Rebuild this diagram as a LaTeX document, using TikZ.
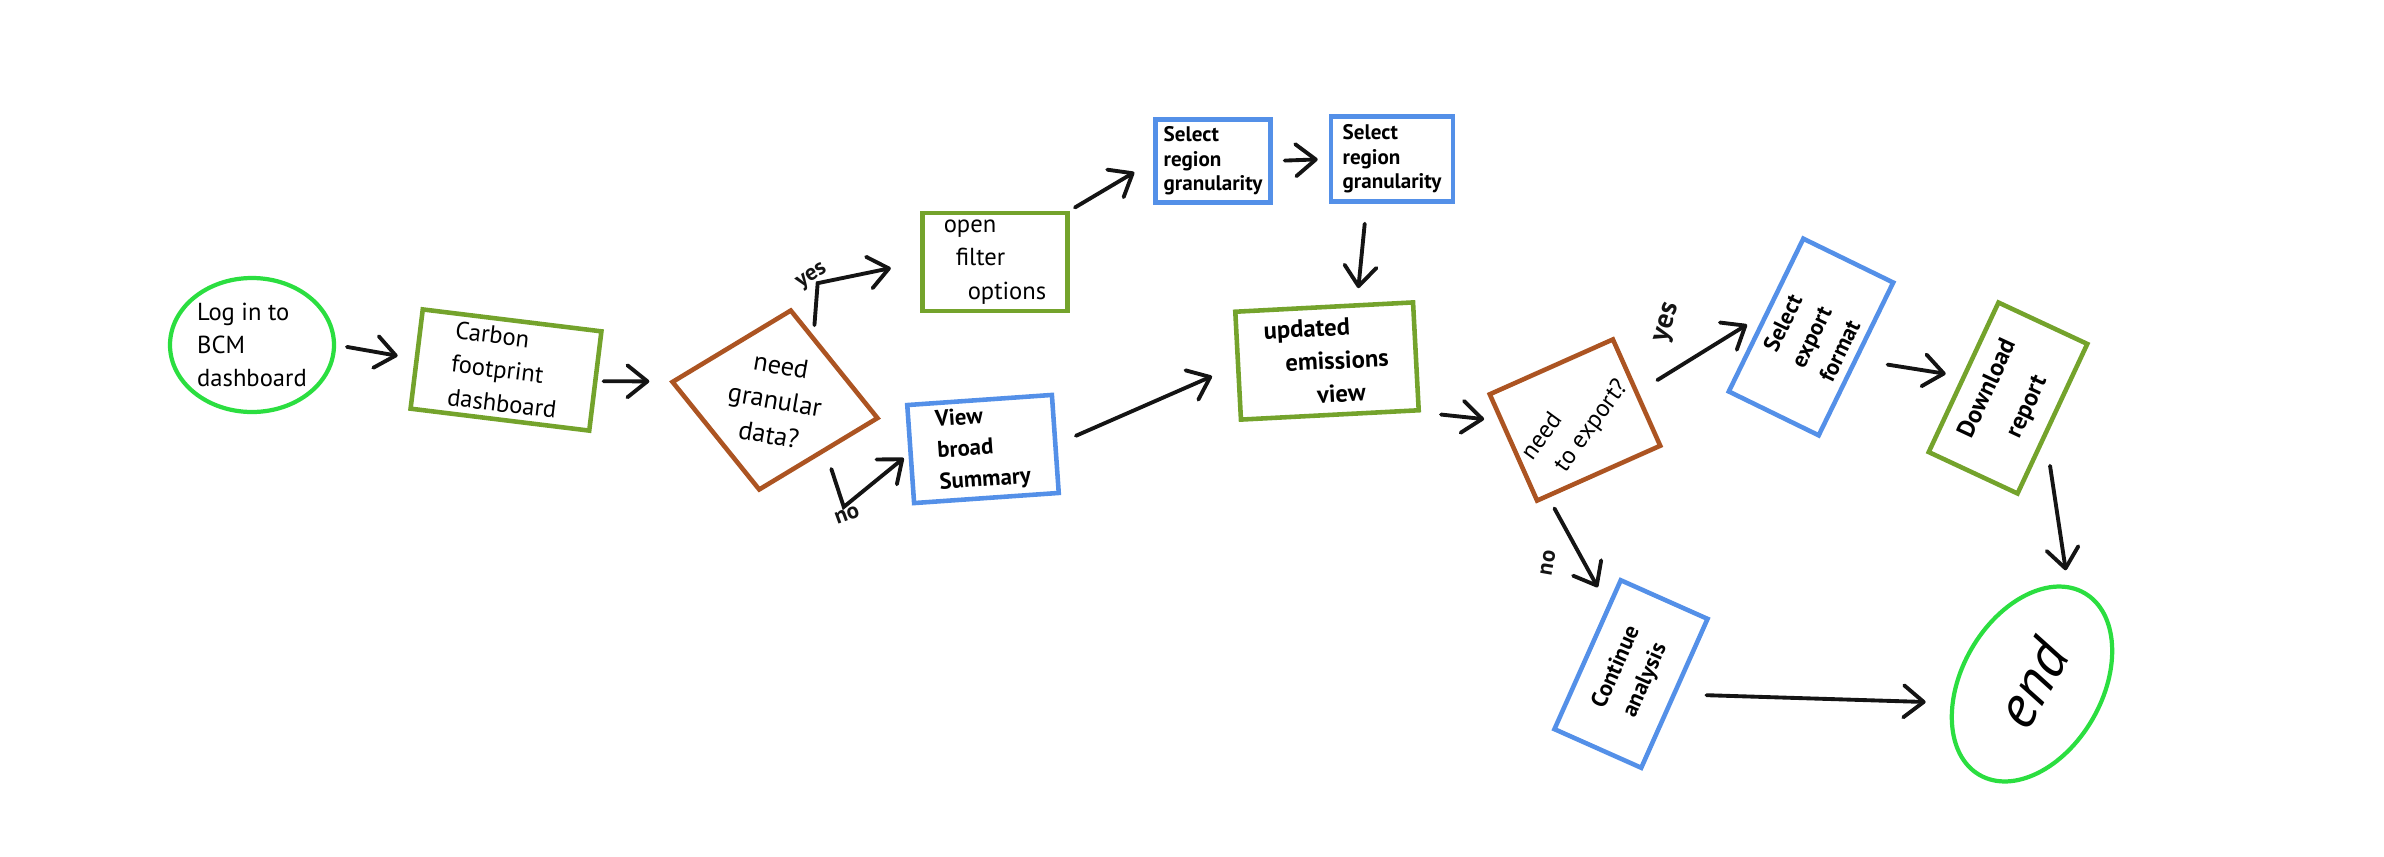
\documentclass[tikz,border=0pt]{standalone}
\usepackage{fontspec}
\setmainfont{PT Sans}
\usepackage{tikz}
\usetikzlibrary{shapes.geometric, arrows.meta, calc}
\definecolor{startgreen}{RGB}{43, 222, 64}
\definecolor{boxgreen}{RGB}{116, 163, 44}
\definecolor{boxblue}{RGB}{84, 144, 232}
\definecolor{decbrown}{RGB}{172, 84, 34}
\definecolor{ink}{RGB}{20, 20, 20}

\begin{document}
\begin{tikzpicture}[
    x=0.1mm, y=-0.1mm,
    terminal/.style={ellipse, draw=startgreen, line width=1.2pt, inner sep=0pt, align=left, font=\fontsize{7}{9.5}\selectfont},
    greenbox/.style={rectangle, draw=boxgreen, line width=1.3pt, inner sep=2pt, align=left, font=\fontsize{7}{9.5}\selectfont},
    bluebox/.style={rectangle, draw=boxblue, line width=1.3pt, inner sep=2pt, align=left, font=\fontsize{6.5}{9}\selectfont\bfseries},
    decision/.style={draw=decbrown, line width=1.3pt, inner sep=0pt, align=center, font=\fontsize{7.5}{10}\selectfont},
    arrow/.style={-{Straight Barb[length=2mm, width=3.2mm, round]}, line width=1.1pt, color=ink, line cap=round},
    answer/.style={font=\fontsize{6.5}{7}\selectfont\bfseries, inner sep=0pt, text=ink}
]
    \useasboundingbox (0,0) rectangle (2384,856);

    % Flow Nodes
    \node[terminal, minimum width=16.4mm, minimum height=13.4mm] (login) at (252,345) {Log in to\\BCM\\dashboard};
    \node[greenbox, minimum width=18mm, minimum height=10mm, rotate=-7] (carbon) at (506,370) {Carbon\\footprint\\dashboard};
    \node[decision, diamond, minimum width=21mm, minimum height=17.2mm, rotate=-10] (granular) at (775,400) {need\\granular\\data?};
    \node[greenbox, minimum width=14.5mm, minimum height=9.2mm] (filter) at (995,262) {open\\\hspace*{1.2mm}filter\\\hspace*{2.4mm}options};
    \node[bluebox, minimum width=11.5mm, minimum height=8.2mm, font=\fontsize{6}{7}\selectfont\bfseries] (regionA) at (1213,161) {Select\\region\\granularity};
    \node[bluebox, minimum width=12.2mm, minimum height=8.5mm, font=\fontsize{6}{7}\selectfont\bfseries] (regionB) at (1392,159) {Select\\region\\granularity};
    \node[bluebox, minimum width=14.5mm, minimum height=8.2mm, rotate=4] (broad) at (983,449) {View\\broad\\Summary};
    \node[greenbox, minimum width=17.8mm, minimum height=10.8mm, rotate=3, font=\fontsize{7}{9.5}\selectfont\bfseries] (updated) at (1327,361) {updated\\\hspace*{2mm}emissions\\\hspace*{5mm}view};
    \node[decision, minimum width=13.2mm, minimum height=11.2mm, rotate=24, font=\fontsize{7}{9.5}\selectfont] (export) at (1575,420) {\rotatebox{30}{\begin{tabular}{@{}l@{}}need\\\hspace*{1mm}to export?\end{tabular}}};
    \node[bluebox, minimum width=17mm, minimum height=10mm, rotate=64, align=center] (format) at (1811,337) {Select\\export\\format};
    \node[greenbox, minimum width=16.5mm, minimum height=9.8mm, rotate=65, align=center, font=\fontsize{7}{9.5}\selectfont\bfseries] (download) at (2008,398) {Download\\[1mm]report};
    \node[bluebox, minimum width=16.3mm, minimum height=9.5mm, rotate=66, align=center] (analysis) at (1631,674) {Continue\\analysis};
    \node[terminal, minimum width=21mm, minimum height=14mm, rotate=60, align=center, font=\fontsize{17}{20}\selectfont\itshape] (finish) at (2032,684) {end};

    % Answers
    \node[answer, rotate=33] (yesgranular) at (812,277) {yes};
    \node[answer, rotate=20] (nogranular) at (847,515) {no};
    \node[answer, rotate=72, font=\fontsize{8}{9}\selectfont\bfseries] (yesexport) at (1668,323) {yes};
    \node[answer, rotate=80] (noexport) at (1548,563) {no};

    % Arrows
    \draw[arrow, shorten <=1.1mm, shorten >=1.7mm] (login.east) -- (carbon.west);
    \draw[arrow, shorten <=0.6mm, shorten >=2mm] (carbon.east) -- (granular.west);
    \draw[arrow, shorten <=1mm, shorten >=3mm] ($(granular.north)!0.25!(granular.east)$) -- ++(4,-52) -- (filter.west);
    \draw[arrow, shorten <=1.8mm, shorten >=0.6mm] ($(granular.south)!0.55!(granular.east)$) -- ++(18,55) -- (broad.west);
    \draw[arrow, shorten <=0.6mm, shorten >=2.2mm] (filter.north east) -- (regionA.west);
    \draw[arrow, shorten <=1.2mm, shorten >=1.1mm] (regionA.east) -- (regionB.west);
    \draw[arrow, shorten <=2mm, shorten >=1.5mm] ($(regionB.south west)!0.3!(regionB.south east)$) -- ($(updated.north west)!0.68!(updated.north east)$);
    \draw[arrow, shorten <=2mm, shorten >=2.6mm] (broad.east) -- (updated.west);
    \draw[arrow, shorten <=2mm, shorten >=1.5mm] (updated.south east) -- ($(export.north west)!0.25!(export.south west)$);
    \draw[arrow, shorten <=2.2mm, shorten >=2mm] (export.east) -- (format.north);
    \draw[arrow, shorten <=1.2mm, shorten >=2mm] ($(export.south west)!0.1!(export.south east)$) -- ($(analysis.north east)!0.18!(analysis.north west)$);
    \draw[arrow, shorten <=3mm, shorten >=1.6mm] (format.south) -- (download.north);
    \draw[arrow, shorten <=2.8mm, shorten >=1.5mm] ($(download.south west)!0.38!(download.south east)$) -- (finish.10);
    \draw[arrow, shorten <=3mm, shorten >=2.5mm] (analysis.south) -- (finish.133);
\end{tikzpicture}
\end{document}
